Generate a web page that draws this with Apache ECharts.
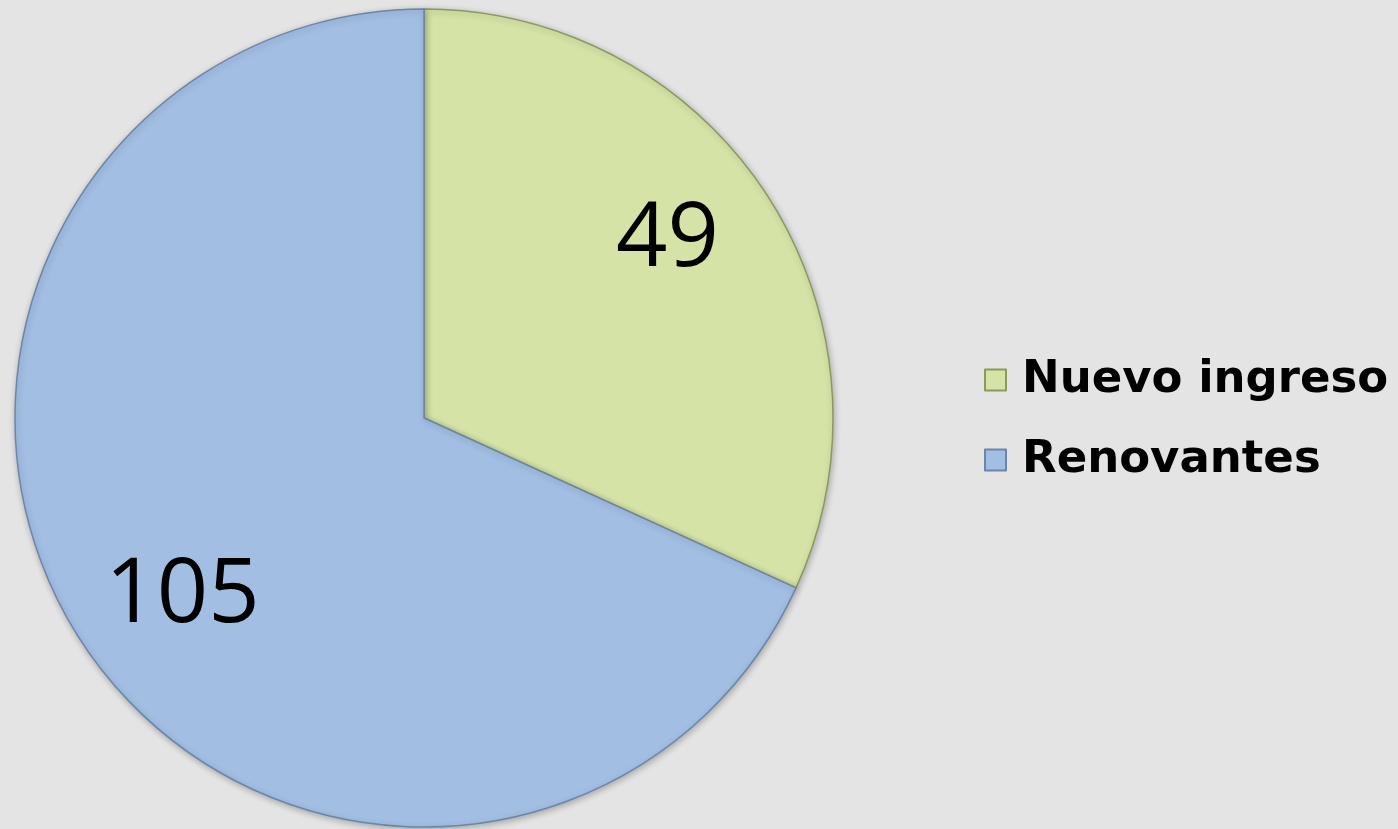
<!DOCTYPE html>
<html>
<head>
<meta charset="utf-8">
<style>
  html, body { margin: 0; padding: 0; background: #e4e4e4; }
  #main { width: 1398px; height: 829px; }
</style>
<script src="https://cdn.jsdelivr.net/npm/echarts@6/dist/echarts.min.js"></script>
</head>
<body>
<div id="main"></div>
<script>
// categorias y valores
var names = ['Nuevo ingreso', 'Renovantes'];
var values = [49, 105];
var colors = ['#d5e3a6', '#a2bee3'];
var borders = ['#8a9a5c', '#6c86a8'];
// pequeño ajuste de la etiqueta de cada porcion
var labelOffsets = [[-13, -13], [15, 13]];

var myChart = echarts.init(document.getElementById('main'));

var pieData = [];
var labelData = [];
for (var i = 0; i < names.length; i++) {
    pieData.push({
        name: names[i],
        value: values[i],
        itemStyle: { color: colors[i], borderColor: borders[i] }
    });
    labelData.push({
        name: names[i],
        value: values[i],
        label: { offset: labelOffsets[i] }
    });
}

var option = {
    backgroundColor: '#e4e4e4',
    animation: false,
    legend: {
        orient: 'vertical',
        left: 979,
        top: 350,
        itemWidth: 21,
        itemHeight: 21,
        itemGap: 30,
        icon: 'rect',
        data: names,
        textStyle: {
            fontFamily: 'DejaVu Sans',
            fontWeight: 'bold',
            fontSize: 45,
            color: '#000',
            lineHeight: 50,
            padding: [0, 0, 0, 11]
        }
    },
    series: [
        {
            name: '',
            type: 'pie',
            radius: 409,
            center: [424, 418],
            startAngle: 90,
            clockwise: true,
            data: pieData,
            label: { show: false },
            labelLine: { show: false },
            itemStyle: {
                borderWidth: 1.5,
                shadowBlur: 6,
                shadowColor: 'rgba(0, 0, 0, 0.25)',
                shadowOffsetX: 1,
                shadowOffsetY: 2
            }
        },
        {
            name: 'labels',
            type: 'pie',
            radius: [195, 409],
            center: [424, 418],
            startAngle: 90,
            clockwise: true,
            silent: true,
            data: labelData,
            itemStyle: { color: 'rgba(0,0,0,0)' },
            labelLine: { show: false },
            label: {
                show: true,
                position: 'inside',
                formatter: '{c}',
                fontFamily: 'Open Sans',
                fontSize: 90,
                color: '#000'
            }
        }
    ]
};
myChart.setOption(option);
</script>
</body>
</html>
